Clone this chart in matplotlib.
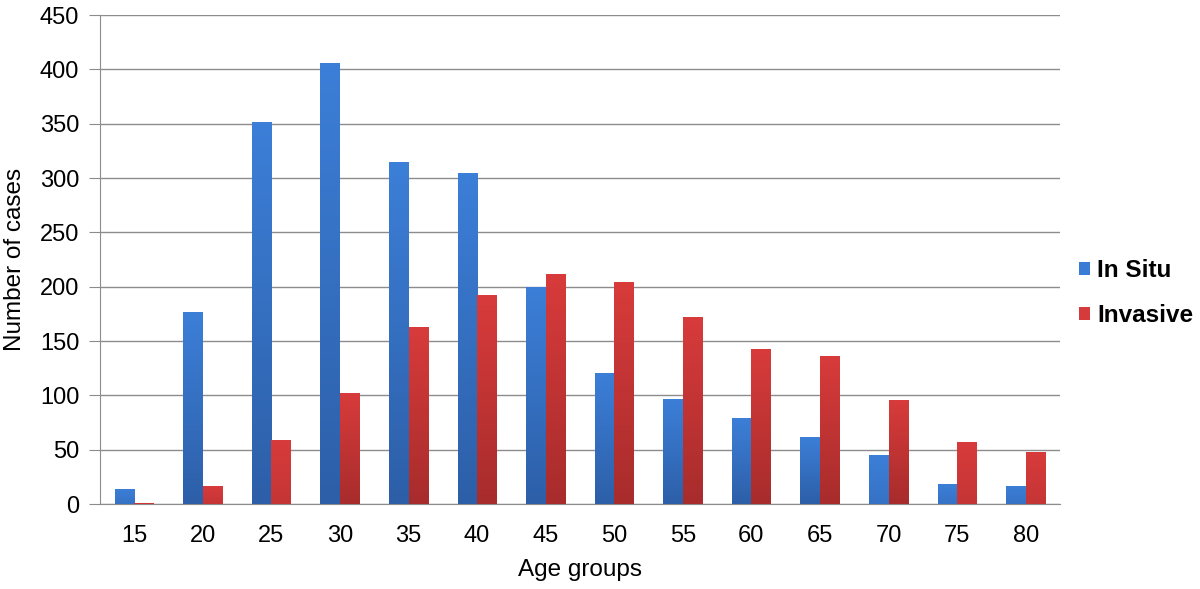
import numpy as np
import matplotlib.pyplot as plt
from matplotlib.colors import LinearSegmentedColormap

plt.rcParams['font.family'] = ['Liberation Sans', 'DejaVu Sans']

ages = ['15', '20', '25', '30', '35', '40', '45', '50', '55', '60', '65', '70', '75', '80']
in_situ = [14, 177, 352, 406, 315, 305, 200, 121, 97, 79, 62, 45, 18, 17]
invasive = [1, 17, 59, 102, 163, 192, 212, 204, 172, 143, 136, 96, 57, 48]

fig = plt.figure(figsize=(12, 5.89), dpi=100)
ax = fig.add_axes([0.0833, 0.1443, 0.8, 0.8302])

x = np.arange(len(ages))
w = 0.285
b1 = ax.bar(x - w / 2, in_situ, w, color='#3a7bd5', label='In Situ', zorder=3)
b2 = ax.bar(x + w / 2, invasive, w, color='#d63a3a', label='Invasive', zorder=3)

# excel-ish vertical gradient on each bar (lighter on top)
grad = np.linspace(0, 1, 100).reshape(-1, 1)
cm_blue = LinearSegmentedColormap.from_list('b', ['#2d5fa8', '#3c7fd8'])
cm_red = LinearSegmentedColormap.from_list('r', ['#a82c2c', '#d83b3b'])
for bars, cm in [(b1, cm_blue), (b2, cm_red)]:
    for p in bars:
        x0, y0 = p.get_x(), p.get_y()
        h = p.get_height()
        if h <= 0:
            continue
        p.set_facecolor('none')
        im = ax.imshow(grad, extent=[x0, x0 + p.get_width(), y0, y0 + h],
                       origin='lower', aspect='auto', cmap=cm, zorder=3)
        # short bars stay mostly light
        if h < 60:
            im.set_clim(-1.5, 1.0)
        else:
            im.set_clim(0.0, 1.0)
        im.set_clip_path(p)

ax.set_xlim(-0.5, len(ages) - 0.5)
ax.set_ylim(0, 450)
ax.set_yticks(np.arange(0, 451, 50))
ax.set_xticks(x)
ax.set_xticklabels(ages)
ax.yaxis.grid(True, color='#8c8c8c', lw=1.0, zorder=0)
for s in ['top', 'right']:
    ax.spines[s].set_visible(False)
for s in ['left', 'bottom']:
    ax.spines[s].set_color('#8c8c8c')
ax.tick_params(axis='y', length=8, color='#8c8c8c', labelsize=17, pad=7)
ax.tick_params(axis='x', length=0, labelsize=17, pad=15)
ax.set_xlabel('Age groups', fontsize=17.5, labelpad=9)
ax.set_ylabel('Number of cases', fontsize=17.5, labelpad=10)

fig.legend(handles=[b1, b2], labels=['In Situ', 'Invasive'],
           loc='center left', bbox_to_anchor=(0.899, 0.502), frameon=False,
           prop={'weight': 'bold', 'size': 17.5}, handlelength=0.45,
           handleheight=0.45, handletextpad=0.3, labelspacing=0.9,
           borderpad=0, borderaxespad=0)
leg = fig.legends[0]
leg.legend_handles[0].set_facecolor('#3a7bd5')
leg.legend_handles[1].set_facecolor('#d63a3a')

plt.savefig('out.png', dpi=100)
